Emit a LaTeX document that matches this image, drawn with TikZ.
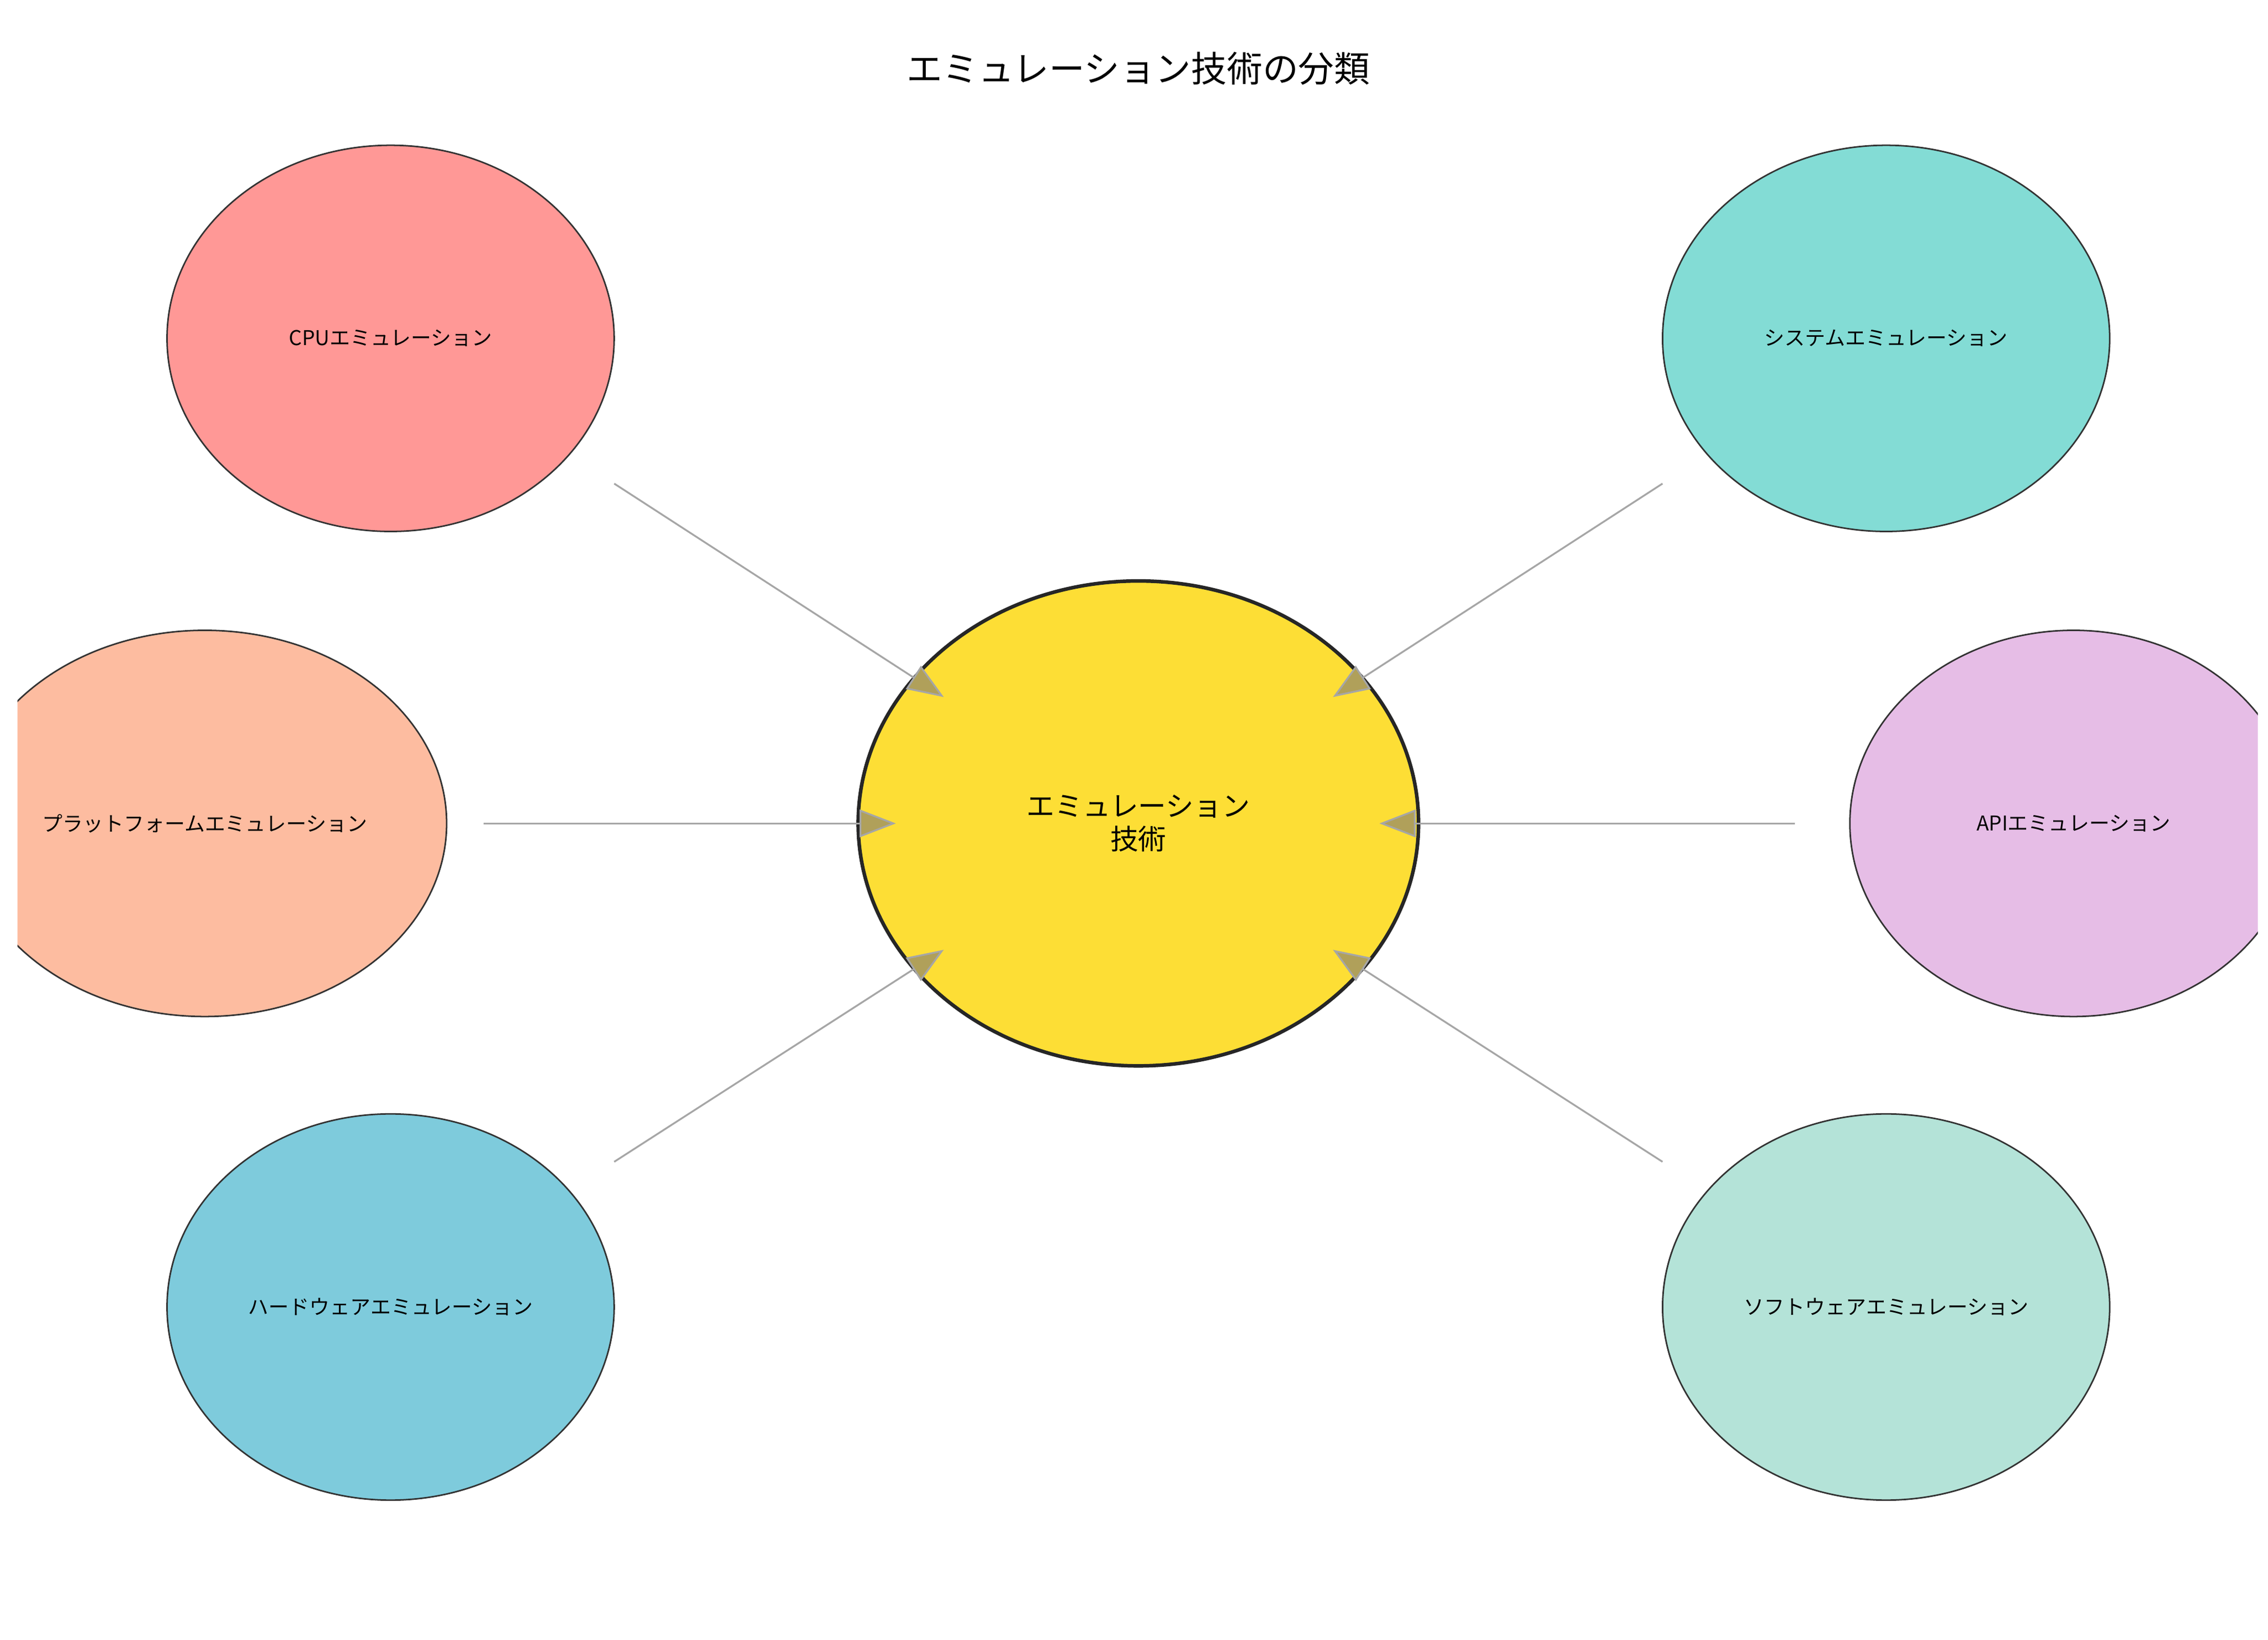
\documentclass[tikz,border=0pt]{standalone}
\usepackage{fontspec}
\newfontfamily\jp{Noto Sans CJK JP}
\usetikzlibrary{shapes.geometric,arrows.meta}
\definecolor{coreyel}{HTML}{FDDE35}
\definecolor{cpured}{HTML}{FF9896}
\definecolor{systeal}{HTML}{83DCD5}
\definecolor{platorg}{HTML}{FDBCA0}
\definecolor{apipur}{HTML}{E6BDE6}
\definecolor{hwblue}{HTML}{7ECBDC}
\definecolor{swmint}{HTML}{B4E3D8}
\definecolor{tipgray}{HTML}{B0A05A}
\tikzset{
  leaf/.style={ellipse,draw=black!80,line width=0.6pt,minimum width=6.16cm,minimum height=5.32cm,font=\jp\fontsize{8}{10}\selectfont},
  conn/.style={draw=black!35,line width=0.7pt,-{Triangle[length=0.5cm,width=0.38cm,fill=tipgray]}}
}
\begin{document}
\begin{tikzpicture}[x=0.02cm,y=-0.02cm]
\useasboundingbox (0,0) rectangle (1562,1129);
\node[font=\jp\fontsize{14}{16}\selectfont] (title) at (784,47) {エミュレーション技術の分類};
\begin{scope}
\clip (12,0) rectangle (1555,1129);
\node[leaf,fill=cpured] (cpu) at (269,233) {CPUエミュレーション};
\node[leaf,fill=systeal] (sys) at (1299,233) {システムエミュレーション};
\node[leaf,fill=platorg] (plat) at (141,567) {プラットフォームエミュレーション};
\node[leaf,fill=apipur] (api) at (1428,567) {APIエミュレーション};
\node[leaf,fill=hwblue] (hw) at (269,900) {ハードウェアエミュレーション};
\node[leaf,fill=swmint] (sw) at (1299,900) {ソフトウェアエミュレーション};
\end{scope}
\node[ellipse,draw=black!85,line width=1.4pt,fill=coreyel,minimum width=7.72cm,minimum height=6.68cm,align=center,font=\jp\fontsize{11}{13}\selectfont] (core) at (784,567) {エミュレーション\\技術};
% connectors
\coordinate (cpuE) at (423,333);  \coordinate (cpuT) at (650,480);
\coordinate (sysE) at (1145,333); \coordinate (sysT) at (918,480);
\coordinate (platE) at (333,567); \coordinate (platT) at (617,567);
\coordinate (apiE) at (1236,567); \coordinate (apiT) at (950,567);
\coordinate (hwE) at (423,800);   \coordinate (hwT) at (650,654);
\coordinate (swE) at (1145,800);  \coordinate (swT) at (918,654);
\foreach \n in {cpu,sys,plat,api,hw,sw}
  \draw[conn] (\n E) -- (\n T);
\end{tikzpicture}
\end{document}
